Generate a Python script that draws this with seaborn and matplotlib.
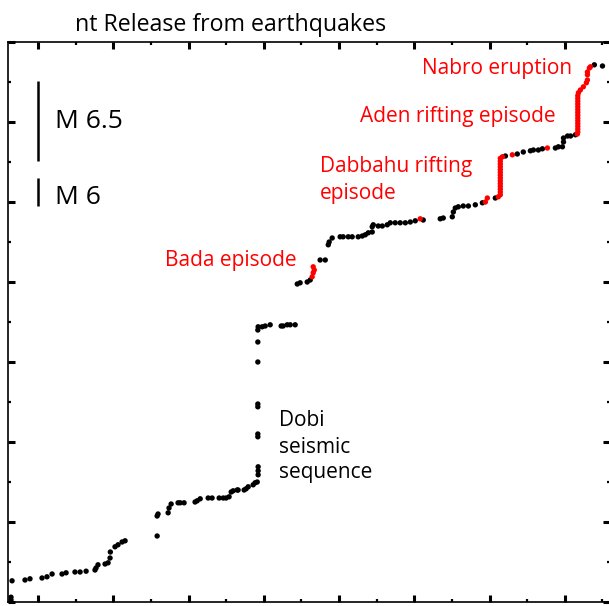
import matplotlib
matplotlib.use("Agg")
import matplotlib.pyplot as plt
import seaborn as sns
import pandas as pd
from matplotlib.ticker import MultipleLocator

# Catalogue events (decimal year, cumulative moment in arbitrary units)
bg_year = [1973.20, 1973.20, 1973.27, 1974.13, 1974.46, 1975.26, 1975.59, 1975.93,
           1976.59, 1976.86, 1977.45, 1977.79, 1978.19, 1978.78, 1978.85, 1978.98,
           1979.45, 1979.65, 1979.78, 1979.80, 1980.11, 1980.31, 1980.58, 1980.78,
           1982.91, 1982.91, 1982.97, 1983.64, 1983.70, 1983.84, 1984.30, 1984.44,
           1984.70, 1985.43, 1985.57, 1985.77, 1986.30, 1986.56, 1987.03, 1987.30,
           1987.49, 1987.69, 1987.83, 1987.96, 1988.23, 1988.29, 1988.69, 1988.82,
           1988.96, 1989.29, 1989.42, 1989.56, 1989.62, 1989.62, 1989.62, 1989.60,
           1989.60, 1989.60, 1989.60, 1989.60, 1989.60, 1989.60, 1989.62, 1989.89,
           1990.09, 1990.42, 1991.15, 1991.28, 1991.55, 1991.75, 1992.08, 1992.22,
           1992.41, 1992.88, 1993.08, 1993.74, 1994.08, 1994.28, 1994.34, 1994.54,
           1995.07, 1995.27, 1995.61, 1995.87, 1996.27, 1996.54, 1996.74, 1996.94,
           1997.20, 1997.20, 1997.27, 1997.60, 1997.87, 1998.20, 1998.40, 1998.73,
           1999.06, 1999.40, 1999.73, 2000.06, 2000.59, 2001.72, 2001.92, 2002.52,
           2002.59, 2002.72, 2002.92, 2003.25, 2003.59, 2004.05, 2004.52, 2005.38,
           2006.05, 2006.84, 2007.24, 2007.71, 2007.91, 2008.24, 2008.51, 2009.37,
           2009.57, 2009.84, 2009.91, 2009.91, 2010.18, 2010.38, 2010.70, 2011.96,
           2012.50]
bg_moment = [0.05, 0.12, 0.53, 0.55, 0.58, 0.60, 0.63, 0.70,
             0.70, 0.73, 0.75, 0.75, 0.77, 0.80, 0.85, 0.93,
             0.95, 0.98, 1.10, 1.25, 1.38, 1.43, 1.50, 1.53,
             1.65, 2.15, 2.20, 2.23, 2.35, 2.45, 2.48, 2.48,
             2.48, 2.50, 2.53, 2.58, 2.60, 2.60, 2.60, 2.60,
             2.60, 2.63, 2.75, 2.78, 2.80, 2.80, 2.80, 2.83,
             2.88, 2.93, 2.98, 3.00, 3.18, 3.28, 3.38, 4.13,
             4.20, 4.88, 4.95, 6.00, 6.50, 6.80, 6.88, 6.88,
             6.90, 6.93, 6.90, 6.90, 6.93, 6.93, 6.93, 7.95,
             7.98, 8.00, 8.05, 8.55, 8.55, 8.93, 9.00, 9.10,
             9.13, 9.13, 9.13, 9.13, 9.13, 9.15, 9.18, 9.23,
             9.25, 9.38, 9.43, 9.40, 9.40, 9.43, 9.48, 9.48,
             9.48, 9.48, 9.50, 9.53, 9.55, 9.58, 9.60, 9.63,
             9.75, 9.85, 9.88, 9.90, 9.90, 9.93, 9.98, 10.10,
             11.15, 11.20, 11.25, 11.28, 11.30, 11.30, 11.33, 11.35,
             11.38, 11.38, 11.50, 11.60, 11.65, 11.65, 11.68, 13.43,
             13.40]

# Events belonging to the volcano-tectonic episodes
ep_year = [1993.21, 1993.28, 1993.35, 1993.28,                      # Bada
           2000.39, 2004.72, 2004.85, 2005.58,                      # Dabbahu lead-in
           2005.71, 2005.71, 2005.71, 2005.71, 2005.71, 2005.71, 2005.71,
           2005.71, 2005.71, 2005.71, 2005.71, 2005.71, 2005.71, 2005.71,
           2005.85, 2006.51, 2008.84, 2010.83,
           2010.86, 2010.86, 2010.86, 2010.86, 2010.86, 2010.86, 2010.86,
           2010.86, 2010.86, 2010.86, 2010.86, 2010.86, 2010.86, 2010.86,
           2010.90, 2011.03, 2011.23,                               # Aden
           2011.43, 2011.50, 2011.50, 2011.50, 2011.63, 2011.70]    # Nabro
ep_moment = [8.13, 8.23, 8.30, 8.38,
             9.58, 10.00, 10.10, 10.13,
             10.18, 10.25, 10.32, 10.39, 10.46, 10.53, 10.60,
             10.67, 10.74, 10.81, 10.88, 10.95, 11.02, 11.09,
             11.13, 11.18, 11.35, 11.70,
             11.75, 11.82, 11.89, 11.96, 12.03, 12.10, 12.17,
             12.24, 12.31, 12.38, 12.45, 12.52, 12.59, 12.66,
             12.73, 12.80, 12.88,
             12.98, 13.05, 13.18, 13.25, 13.35, 13.38]

df = pd.concat([
    pd.DataFrame({"year": bg_year, "moment": bg_moment, "kind": "catalogue"}),
    pd.DataFrame({"year": ep_year, "moment": ep_moment, "kind": "episode"}),
], ignore_index=True)

sns.set_style("ticks")
plt.rcParams["font.family"] = ["Open Sans", "DejaVu Sans"]
plt.rcParams["text.color"] = "black"

fig = plt.figure(figsize=(6.09, 6.06), dpi=100)
ax = fig.add_axes([8 / 609, 1 - 602 / 606, 602 / 609, 560 / 606])

sns.scatterplot(data=df, x="year", y="moment", hue="kind",
                palette={"catalogue": "black", "episode": "#ff0000"},
                s=15, linewidth=0, legend=False, ax=ax, clip_on=False)

ax.set_xlim(1973, 2013)
ax.set_ylim(0, 14)
ax.xaxis.set_major_locator(MultipleLocator(5))
ax.xaxis.set_minor_locator(MultipleLocator(2.5))
ax.yaxis.set_major_locator(MultipleLocator(2))
ax.yaxis.set_minor_locator(MultipleLocator(1))
ax.tick_params(which="both", direction="in", top=True, right=True,
               labelbottom=False, labelleft=False, color="black")
ax.tick_params(which="major", length=5, width=2.2)
ax.tick_params(which="minor", length=2.5, width=1.6)
ax.set_xlabel("")
ax.set_ylabel("")
for sp in ax.spines.values():
    sp.set_linewidth(1.2)
    sp.set_color("black")

# Magnitude scale bars
ax.plot([1975.0, 1975.0], [11.03, 13.03], color="black", lw=1.8, solid_capstyle="butt")
ax.plot([1975.0, 1975.0], [9.9, 10.6], color="black", lw=1.8, solid_capstyle="butt")
ax.text(1976.12, 11.85, "M 6.5", color="black", fontsize=19, va="baseline", ha="left")
ax.text(1976.12, 9.95, "M 6", color="black", fontsize=19, va="baseline", ha="left")

# Episode annotations
red = "#ff0000"
fs = 15
ax.text(2000.51, 13.2, "Nabro eruption", color=red, fontsize=fs, va="baseline")
ax.text(1996.39, 12.0, "Aden rifting episode", color=red, fontsize=fs, va="baseline")
ax.text(1993.73, 10.75, "Dabbahu rifting", color=red, fontsize=fs, va="baseline")
ax.text(1993.73, 10.08, "episode", color=red, fontsize=fs, va="baseline")
ax.text(1983.43, 8.4, "Bada episode", color=red, fontsize=fs, va="baseline")
ax.text(1991.0, 4.4, "Dobi", color="black", fontsize=fs, va="baseline")
ax.text(1991.0, 3.73, "seismic", color="black", fontsize=fs, va="baseline")
ax.text(1991.0, 3.1, "sequence", color="black", fontsize=fs, va="baseline")

fig.text(75 / 609, 1 - 31 / 606, "nt Release from earthquakes", color="black",
         fontsize=16.7, va="baseline", ha="left")

fig.savefig("out.png", dpi=100)
